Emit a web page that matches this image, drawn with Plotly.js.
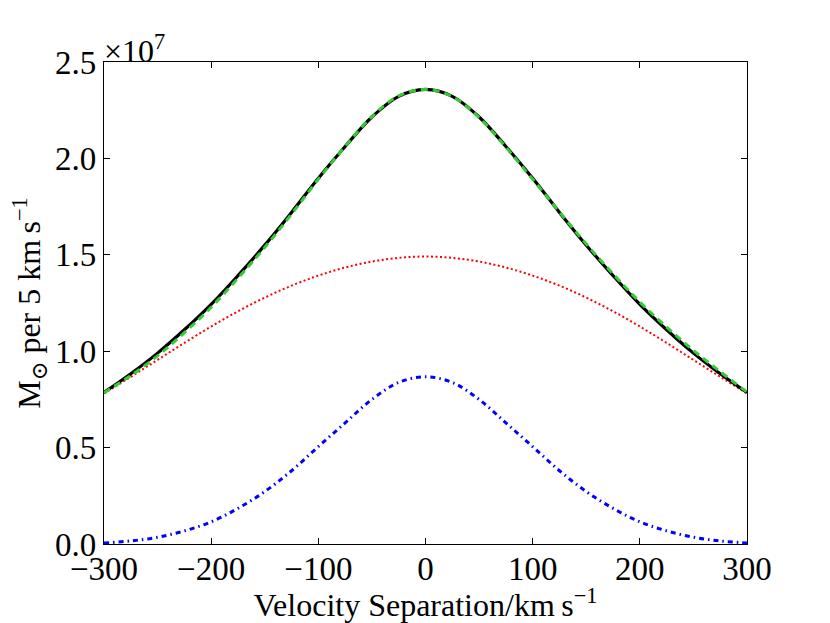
<!DOCTYPE html>
<html>
<head>
<meta charset="utf-8">
<script src="https://cdn.plot.ly/plotly-3.0.1.min.js"></script>
<style>
html,body{margin:0;padding:0;background:#fff;}
#chart{width:830px;height:623px;}
</style>
</head>
<body>
<div id="chart"></div>
<script>
// Velocity separation (km/s)
var velocity = [-300,-275,-250,-225,-200,-175,-150,-125,-100,-75,-50,-25,0,25,50,75,100,125,150,175,200,225,250,275,300];
// Values in units of 1e7 Msun per 5 km/s
var totalMass = [0.786,0.883,0.990,1.111,1.243,1.392,1.550,1.720,1.897,2.062,2.215,2.322,2.358,2.322,2.215,2.062,1.897,1.720,1.550,1.392,1.243,1.111,0.990,0.883,0.786];
var fitMass   = [0.784,0.874,0.976,1.096,1.228,1.378,1.538,1.711,1.892,2.062,2.217,2.324,2.358,2.320,2.212,2.058,1.892,1.722,1.556,1.401,1.255,1.125,1.004,0.894,0.788];
var broadComp = [0.781,0.867,0.955,1.043,1.128,1.207,1.278,1.340,1.392,1.434,1.465,1.484,1.491,1.484,1.465,1.434,1.392,1.340,1.278,1.207,1.128,1.043,0.955,0.867,0.781];
var narrowComp= [0.005,0.016,0.035,0.068,0.115,0.185,0.272,0.380,0.505,0.628,0.750,0.838,0.867,0.838,0.750,0.628,0.505,0.380,0.272,0.185,0.115,0.068,0.035,0.016,0.005];
var scale = 1e7;
var yTickVals = [0,0.5,1.0,1.5,2.0,2.5];
var yTickText = ['0.0','0.5','1.0','1.5','2.0','2.5'];
var xTickVals = [-300,-200,-100,0,100,200,300];
var xTickText = ['\u2212300','\u2212200','\u2212100','0','100','200','300'];

function sc(a){return a.map(function(v){return v*scale;});}

var traces = [
  {x:velocity, y:sc(broadComp), mode:'lines', line:{color:'#ff0000', width:2, dash:'2px,2.5px', shape:'spline'}, hoverinfo:'skip'},
  {x:velocity, y:sc(narrowComp), mode:'lines', line:{color:'#0000ff', width:3, dash:'5px,4px,1.5px,4px', shape:'spline'}, hoverinfo:'skip'},
  {x:velocity, y:sc(totalMass), mode:'lines', line:{color:'#000000', width:3.2, shape:'spline'}, hoverinfo:'skip'},
  {x:velocity, y:sc(fitMass), mode:'lines', line:{color:'#33cc33', width:3, dash:'7px,5px', shape:'spline'}, hoverinfo:'skip'}
];

var fontFam = '"Liberation Serif", "DejaVu Serif", serif';
var fsTick = 33;
var fsTitle = 32;
var layout = {
  width:830, height:623,
  margin:{l:104, r:83, t:62, b:79},
  paper_bgcolor:'#fff', plot_bgcolor:'#fff',
  showlegend:false,
  font:{family:fontFam, size:fsTick, color:'#000'},
  xaxis:{
    range:[-300,300], tickmode:'array', tickvals:xTickVals, ticktext:xTickText,
    ticks:'inside', ticklen:6, tickwidth:1, tickcolor:'#000',
    showline:true, linecolor:'#000', linewidth:1.2, mirror:'ticks',
    showgrid:false, zeroline:false, ticklabelstandoff:-5,
    tickfont:{family:fontFam, size:fsTick},
    title:{text:'Velocity Separation/km\u2009s<sup>\u22121</sup>', font:{family:fontFam, size:fsTitle}, standoff:0}
  },
  yaxis:{
    range:[0,2.5*scale], tickmode:'array', tickvals:sc(yTickVals), ticktext:yTickText,
    ticks:'inside', ticklen:6, tickwidth:1, tickcolor:'#000',
    showline:true, linecolor:'#000', linewidth:1.2, mirror:'ticks',
    showgrid:false, zeroline:false,
    tickfont:{family:fontFam, size:fsTick},
    title:{text:'M<sub>\u2299</sub> per 5 km\u2009s<sup>\u22121</sup>', font:{family:fontFam, size:fsTitle}, standoff:4}
  },
  annotations:[
    {xref:'paper', yref:'paper', x:0, y:1, xanchor:'left', yanchor:'bottom', yshift:-9, xshift:-2,
     text:'\u00d710<sup>7</sup>', showarrow:false, font:{family:fontFam, size:fsTitle, color:'#000'}}
  ]
};

Plotly.newPlot('chart', traces, layout, {staticPlot:true, displayModeBar:false});
</script>
</body>
</html>
